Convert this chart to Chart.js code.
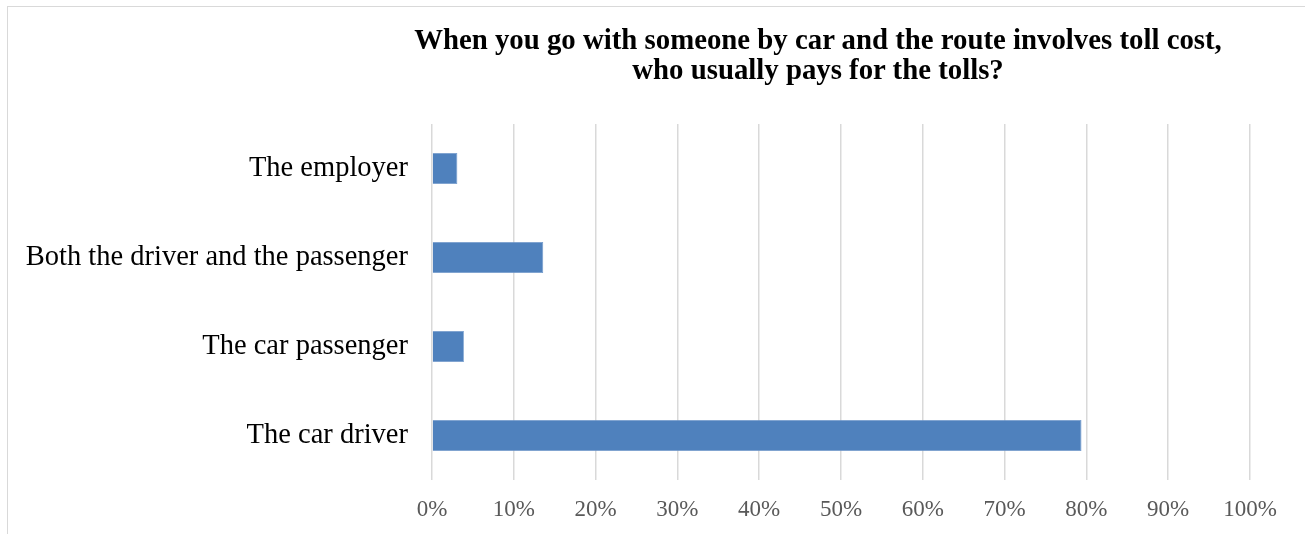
<!DOCTYPE html>
<html>
<head>
<meta charset="utf-8">
<script src="https://cdn.jsdelivr.net/npm/chart.js@4/dist/chart.umd.min.js"></script>
<style>
  html, body { margin: 0; padding: 0; background: #fff; overflow: hidden; }
  #wrap { position: relative; width: 1305px; height: 534px; }
  #frame { position: absolute; left: 7px; top: 6px; width: 1400px; height: 600px;
           border-left: 1.5px solid #d9d9d9; border-top: 1.5px solid #d9d9d9; }
  #title { position: absolute; left: 318px; width: 1000px; top: 24px; text-align: center;
           font-family: "Liberation Serif", "Times New Roman", serif; font-weight: bold;
           font-size: 28.8px; line-height: 30px; color: #000; }
  canvas { position: absolute; left: 0; top: 0; }
</style>
</head>
<body>
<div id="wrap">
  <div id="frame"></div>
  <canvas id="c" width="1305" height="534"></canvas>
  <div id="title">When you go with someone by car and the route involves toll cost,<br>who usually pays for the tolls?</div>
</div>
<script>
const categories = ['The employer', 'Both the driver and the passenger', 'The car passenger', 'The car driver'];
const shares = [3.1, 13.6, 3.9, 79.4];
const tickValues = [0, 10, 20, 30, 40, 50, 60, 70, 80, 90, 100];

new Chart(document.getElementById('c'), {
  type: 'bar',
  data: {
    labels: categories,
    datasets: [{
      data: shares,
      backgroundColor: '#4f81bd',
      borderColor: '#6f98cc',
      borderWidth: 0.8,
      categoryPercentage: 1,
      barPercentage: 0.35
    }]
  },
  options: {
    indexAxis: 'y',
    responsive: false,
    animation: false,
    layout: { padding: { top: 124, right: 55, left: 0, bottom: 0 } },
    plugins: { legend: { display: false }, title: { display: false }, tooltip: { enabled: false } },
    scales: {
      x: {
        min: 0, max: 100,
        afterBuildTicks: (axis) => { axis.ticks = tickValues.map(v => ({ value: v })); },
        afterFit: (axis) => { axis.height = 54; },
        grid: { color: '#d9d9d9', lineWidth: 1.5, drawTicks: false },
        border: { display: false },
        ticks: {
          padding: 16,
          color: '#595959',
          font: { family: '"Liberation Serif", "Times New Roman", serif', size: 23 },
          callback: (v) => v + '%'
        }
      },
      y: {
        afterFit: (axis) => { axis.width = 432; },
        grid: { display: false, drawTicks: false },
        border: { display: false },
        ticks: {
          padding: 24,
          color: '#000',
          font: { family: '"Liberation Serif", "Times New Roman", serif', size: 28.5 }
        }
      }
    }
  }
});
</script>
</body>
</html>
